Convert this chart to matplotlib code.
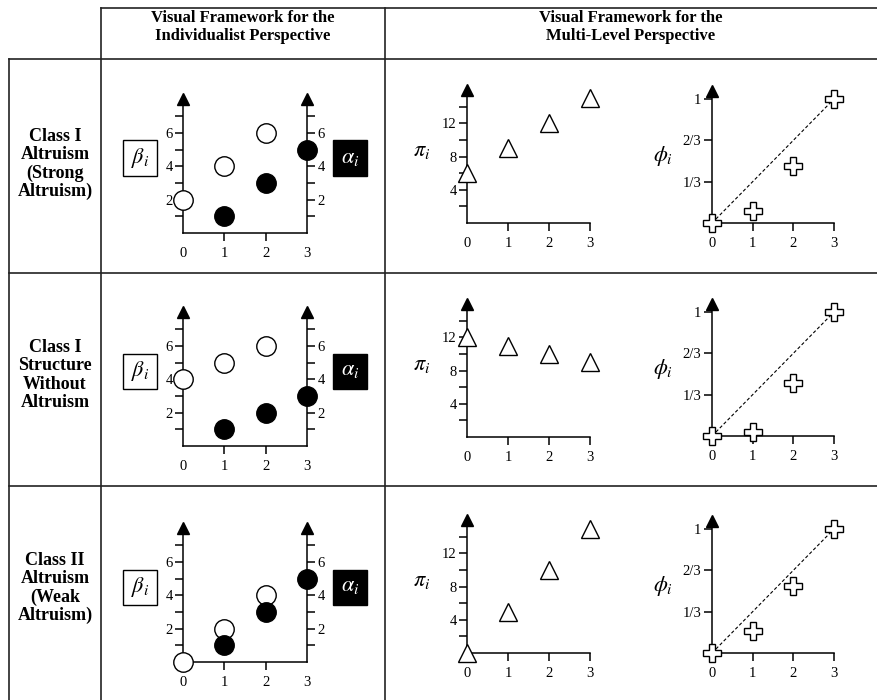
import matplotlib
matplotlib.use("Agg")
import matplotlib.pyplot as plt
from matplotlib.lines import Line2D
from matplotlib.patches import Rectangle
from matplotlib.ticker import FixedLocator

plt.rcParams["font.family"] = "Liberation Serif"
plt.rcParams["mathtext.fontset"] = "stix"

W, H = 877, 700
fig = plt.figure(figsize=(W / 100, H / 100), dpi=100)

# ---- data -----------------------------------------------------------------
row_titles = [
    "Class I\nAltruism\n(Strong\nAltruism)",
    "Class I\nStructure\nWithout\nAltruism",
    "Class II\nAltruism\n(Weak\nAltruism)",
]
col_titles = [
    "Visual Framework for the\nIndividualist Perspective",
    "Visual Framework for the\nMulti-Level Perspective",
]
group_i = [0, 1, 2, 3]
beta_i = [0, 1, 2]
alpha_i = [1, 2, 3]
beta = [[2, 4, 6], [4, 5, 6], [0, 2, 4]]
alpha = [[1, 3, 5], [1, 2, 3], [1, 3, 5]]
pi = [[6, 9, 12, 15], [12, 11, 10, 9], [0, 5, 10, 15]]
phi = [[0, 0.1, 0.46, 1], [0, 0.03, 0.43, 1], [0, 0.18, 0.54, 1]]
phi_ticks = [1 / 3, 2 / 3, 1]
phi_ticklabels = ["1/3", "2/3", "1"]

# ---- layout (pixels) ------------------------------------------------------
ind_x0, ind_x1 = 183, 307
pi_x0, pi_x1 = 467, 590
phi_x0, phi_x1 = 712, 834
ind_y0 = [233, 446, 662]
pi_y0 = [223, 437, 653]
phi_y0 = [223, 436, 653]

LW = 1.1
TICK = dict(direction="out", length=6, width=LW, labelsize=10.5, pad=1.5)


def fx(x):
    return x / W


def fy(y):
    return 1 - y / H


def panel(x0, x1, y0, ppu, ytop, spines=("left", "bottom")):
    h = ppu * ytop
    ax = fig.add_axes([fx(x0), fy(y0), (x1 - x0) / W, h / H])
    ax.set_xlim(0, 3)
    ax.set_ylim(0, ytop)
    ax.patch.set_visible(False)
    for s in ("left", "right", "top", "bottom"):
        ax.spines[s].set_visible(s in spines)
        ax.spines[s].set_linewidth(LW)
    ax.set_xticks(group_i)
    ax.set_xticklabels([str(g) for g in group_i])
    ax.tick_params(axis="x", **dict(TICK, pad=4))
    ax.tick_params(axis="y", which="both", **TICK)
    xt = ax.xaxis.get_major_ticks()
    xt[0].tick1line.set_visible(False)
    ax.plot([0], [1], marker="^", ms=8, color="black",
            transform=ax.get_xaxis_transform(), clip_on=False, zorder=4)
    return ax


def label_box(cx, cy, text, dark):
    w, h = 34, 35
    fig.add_artist(Rectangle((fx(cx - w / 2), fy(cy + h / 2)), w / W, h / H,
                             transform=fig.transFigure,
                             facecolor="black" if dark else "white",
                             edgecolor="black", lw=1.0))
    fig.text(fx(cx), fy(cy), text, ha="center", va="center", fontsize=16,
             color="white" if dark else "black")


for r in range(3):
    # individualist panel: beta (open) and alpha (filled) circles
    ax = panel(ind_x0, ind_x1, ind_y0[r], 16.7, 8.0,
               spines=("left", "right", "bottom"))
    ax.yaxis.set_major_locator(FixedLocator([2, 4, 6]))
    ax.yaxis.set_minor_locator(FixedLocator([1, 3, 5, 7]))
    ax.tick_params(axis="y", which="both", left=True, right=True,
                   labelleft=True, labelright=True)
    ax.xaxis.get_major_ticks()[3].tick1line.set_visible(False)
    ax.plot([3], [1], marker="^", ms=8, color="black",
            transform=ax.get_xaxis_transform(), clip_on=False, zorder=4)
    ax.plot(beta_i, beta[r], "o", ms=14, mfc="white", mec="black", mew=1.0,
            clip_on=False, zorder=5)
    ax.plot(alpha_i, alpha[r], "o", ms=14, mfc="black", mec="black", mew=1.0,
            clip_on=False, zorder=5)
    label_box(ind_x0 - 43, ind_y0[r] - 75, r"$\beta_i$", False)
    label_box(ind_x0 + 167, ind_y0[r] - 75, r"$\alpha_i$", True)

    # group payoff panel
    ax = panel(pi_x0, pi_x1, pi_y0[r], 8.3, 16.0)
    ax.yaxis.set_major_locator(FixedLocator([4, 8, 12]))
    ax.yaxis.set_minor_locator(FixedLocator([2, 6, 10, 14]))
    ax.plot(group_i, pi[r], "^", ms=13, mfc="white", mec="black", mew=1.0,
            clip_on=False, zorder=5)
    ax.text(-1.1, 8.6, r"$\pi_i$", fontsize=16, ha="center", va="center")

    # proportion panel
    ax = panel(phi_x0, phi_x1, phi_y0[r], 124, 1.065)
    ax.set_yticks(phi_ticks)
    ax.set_yticklabels(phi_ticklabels)
    ax.plot([group_i[0], group_i[-1]], [phi[r][0], phi[r][-1]], ls=(0, (3, 2)),
            color="black", lw=0.8, zorder=3)
    ax.plot(group_i, phi[r], "P", ms=13, mfc="white", mec="black", mew=1.0,
            clip_on=False, zorder=5)
    ax.text(-1.2, 0.54, r"$\phi_i$", fontsize=16, ha="center", va="center")

# ---- table frame ----------------------------------------------------------
frame = [
    ((101, 877), (8, 8)),
    ((9, 877), (59, 59)),
    ((9, 877), (273, 273)),
    ((9, 877), (486, 486)),
    ((9, 9), (59, 700)),
    ((101, 101), (8, 700)),
    ((385, 385), (8, 700)),
]
for (xa, xb), (ya, yb) in frame:
    fig.add_artist(Line2D([fx(xa), fx(xb)], [fy(ya), fy(yb)],
                          transform=fig.transFigure, color="#222222", lw=1.2))

fig.text(fx(243), fy(27), col_titles[0], ha="center", va="center",
         fontsize=12, fontweight="bold", linespacing=1.25)
fig.text(fx(631), fy(27), col_titles[1], ha="center", va="center",
         fontsize=12, fontweight="bold", linespacing=1.25)

row_cy = [164, 375, 588]
for r in range(3):
    fig.text(fx(55), fy(row_cy[r]), row_titles[r], ha="center", va="center",
             fontsize=13, fontweight="bold", linespacing=1.08)

fig.savefig("out.png", dpi=100, facecolor="white")
